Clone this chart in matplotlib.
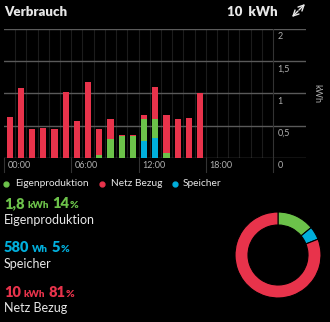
import matplotlib
matplotlib.use("Agg")
import matplotlib.pyplot as plt
from matplotlib.lines import Line2D

# stündlicher Verbrauch (kWh), gestapelt: Speicher unten, Eigenproduktion, Netz Bezug oben
hours = list(range(18))
speicher = [0, 0, 0, 0, 0, 0, 0, 0, 0, 0, 0, 0, 0.26, 0.315, 0, 0, 0, 0]
eigen = [0, 0, 0, 0, 0, 0, 0, 0, 0.05, 0.29, 0.345, 0.345, 0.34, 0.29, 0.08, 0, 0, 0]
netz = [0.63, 1.08, 0.455, 0.46, 0.455, 1.03, 0.57, 1.18, 0.405, 0.32, 0.012, 0.012,
        0.07, 0.495, 0.585, 0.61, 0.615, 1.01]

xticks = [0, 6, 12, 18]
xtick_labels = ['00:00', '06:00', '12:00', '18:00']
yticks = [0, 0.5, 1, 1.5, 2]
ytick_labels = ['0', '0,5', '1', '1,5', '2']

names = ['Eigenproduktion', 'Speicher', 'Netz Bezug']
amounts = ['1,8', '580', '10']
units = ['kWh', 'Wh', 'kWh']
percents = [14, 5, 81]

RED = '#e8334b'
GREEN = '#6cc24a'
BLUE = '#00afdc'
WHITE = '#e8e8e8'
GREY = '#b0b0b0'

plt.rcParams['font.family'] = ['Lato', 'DejaVu Sans']

W, H = 330, 322
fig = plt.figure(figsize=(W / 100, H / 100), dpi=100, facecolor='black')


def px(x, y):
    # Pixel (oben links) -> Figurkoordinaten
    return x / W, 1 - y / H


# --- Balkendiagramm ---
x0, x_end, y_top, y_bot = 4, 306, 29, 158
ax = fig.add_axes([x0 / W, 1 - y_bot / H, (x_end - x0) / W, (y_bot - y_top) / H])
ax.set_facecolor('black')
hour_px = (273 - x0) / 24
ax.set_xlim(0, (x_end - x0) / hour_px)
ax.set_ylim(0, 2)
for s in ax.spines.values():
    s.set_visible(False)
ax.set_xticks([])
ax.set_yticks([])

for h in range(1, 24):
    ax.plot([h, h], [0, 2], color='#1c1c1c', lw=0.8, zorder=0)
for y in yticks:
    ax.axhline(y, color='#5a5a5a', lw=1, zorder=1)
for t in xticks + [24]:
    ax.plot([t, t], [-0.22, 0], color='#333333', lw=0.8, clip_on=False)
ax.plot([24, 24], [0, 2], color='#333333', lw=0.8)

xs = [h + 0.5 for h in hours]
bw = 0.55
b2 = [a + b for a, b in zip(speicher, eigen)]
ax.bar(xs, speicher, bw, color=BLUE, zorder=3)
ax.bar(xs, eigen, bw, bottom=speicher, color=GREEN, zorder=3)
ax.bar(xs, netz, bw, bottom=b2, color=RED, zorder=3)

for t, lab in zip(xticks, xtick_labels):
    ax.text(t + 0.35, -0.05, lab, color=GREY, fontsize=6.5, ha='left', va='top')
for y, lab in zip(yticks, ytick_labels):
    ax.text(24.4, y - 0.05, lab, color=GREY, fontsize=6.5, ha='left', va='top')
fig.text(*px(317, 94), 'kWh', color=GREY, fontsize=6.5, rotation=270,
         ha='center', va='center')

# --- Kopfzeile ---
fig.text(*px(4, 12), 'Verbrauch', color=WHITE, fontsize=9.5, fontweight='heavy', va='center')
fig.text(*px(278, 12), '10  kWh', color=WHITE, fontsize=9.5, fontweight='heavy',
         va='center', ha='right')
for (a, b) in [((299, 10), (305, 4)), ((298, 11), (292, 17))]:
    fig.add_artist(plt.Annotation('', xy=px(*b), xytext=px(*a), xycoords='figure fraction',
                                  arrowprops=dict(arrowstyle='->', color=WHITE, lw=1,
                                                  shrinkA=0, shrinkB=0)))

# --- Legende ---
for dx, tx, lab, c in [(6, 15, 'Eigenproduktion', GREEN), (102, 111, 'Netz Bezug', RED),
                       (175, 183, 'Speicher', BLUE)]:
    fig.add_artist(Line2D([dx / W], [1 - 184 / H], marker='o', ms=3.5, color=c,
                          transform=fig.transFigure))
    fig.text(*px(tx, 184), lab, color=WHITE, fontsize=7.3, va='center')

# --- Summen ---
renderer = fig.canvas.get_renderer()


def run(x, y, pieces):
    for txt, size, col, gap in pieces:
        t = fig.text(*px(x, y), txt, color=col, fontsize=size, fontweight='heavy',
                     va='baseline')
        x += t.get_window_extent(renderer).width + gap


colors = [GREEN, BLUE, RED]
rows = [(208, 220), (252, 264), (297, 308)]
for i in range(3):
    yb, yl = rows[i]
    run(4, yb, [(amounts[i], 10.5, colors[i], 3), (units[i], 7, colors[i], 3),
                (str(percents[i]), 10.5, colors[i], 0.5), ('%', 7.5, colors[i], 0)])
    fig.text(*px(4, yl), names[i], color=WHITE, fontsize=9, va='center')

# --- Ring ---
cx, cy, r = 278, 255, 43
pad = 46
ax2 = fig.add_axes([(cx - pad) / W, 1 - (cy + pad) / H, 2 * pad / W, 2 * pad / H])
ax2.set_facecolor('black')
ax2.pie(percents, colors=colors, startangle=90, counterclock=False, radius=1,
        wedgeprops=dict(width=13 / r, edgecolor='black', linewidth=0.8))
ax2.set_xlim(-pad / r, pad / r)
ax2.set_ylim(-pad / r, pad / r)
ax2.set_aspect('equal')
ax2.axis('off')

fig.savefig('out.png', dpi=100, facecolor='black')
